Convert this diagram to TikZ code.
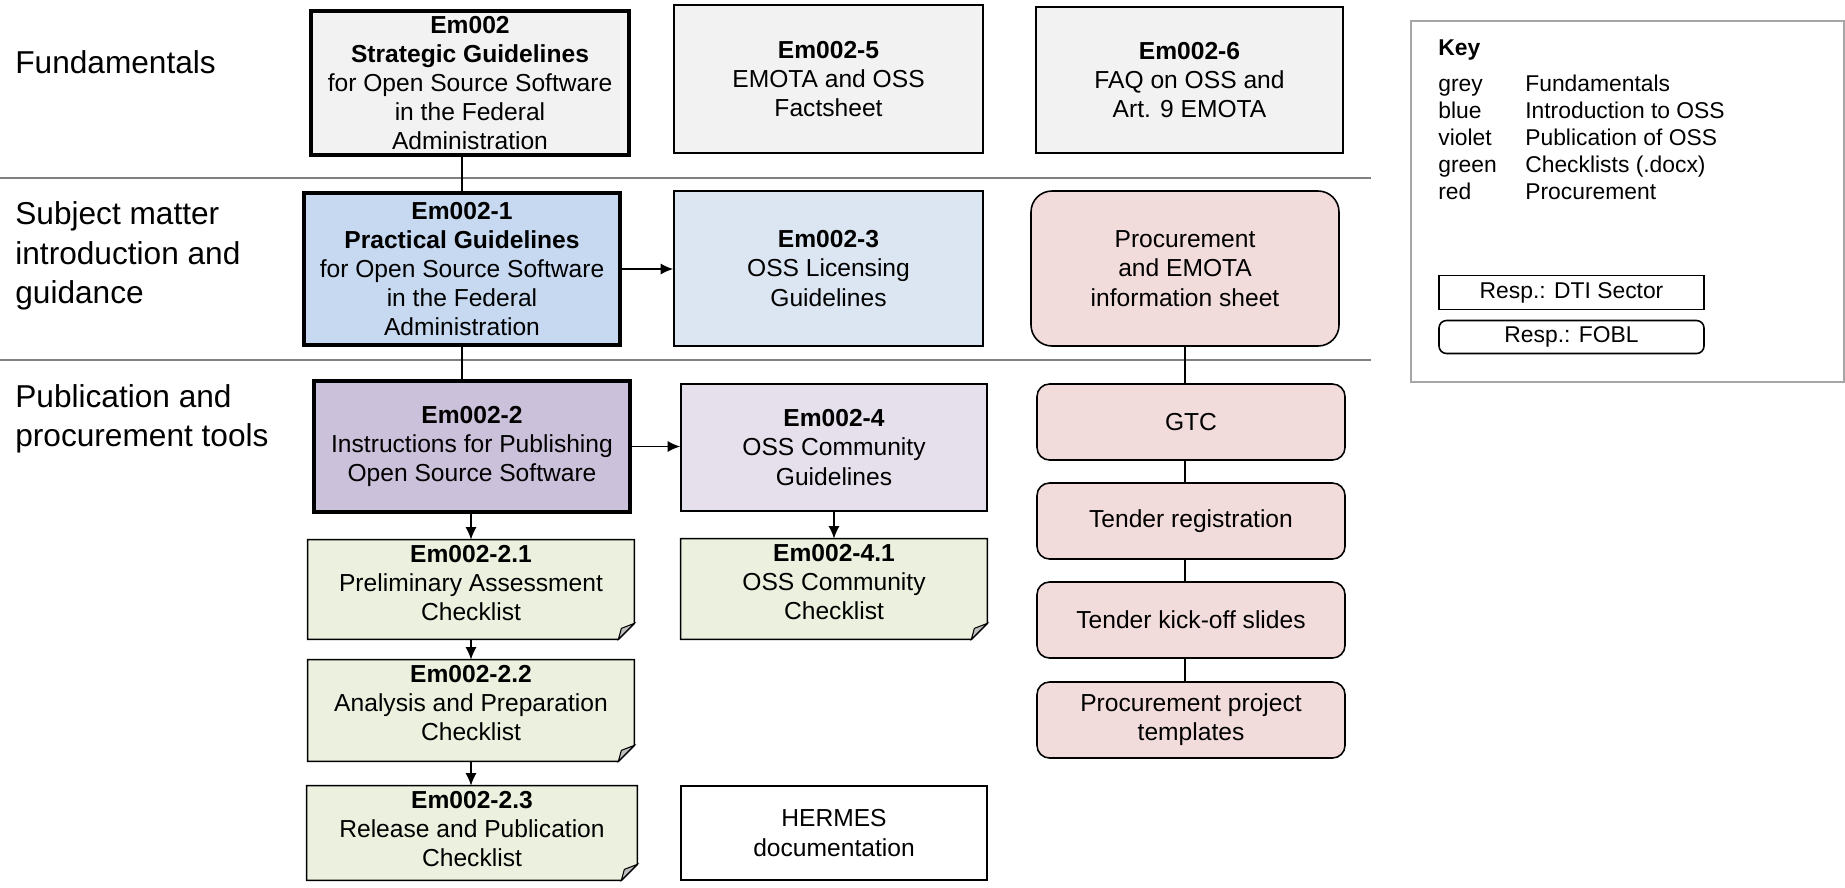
\documentclass[tikz,border=0pt]{standalone}
\usepackage{fontspec}
\setmainfont{Liberation Sans}
\usepackage{tikz}
\usetikzlibrary{calc,arrows.meta,positioning}

\definecolor{fundgrey}{HTML}{F2F2F2}
\definecolor{introblue}{HTML}{C6D9F1}
\definecolor{lightblue}{HTML}{DCE6F2}
\definecolor{pubviolet}{HTML}{CCC1DA}
\definecolor{lightviolet}{HTML}{E6E0EC}
\definecolor{chkgreen}{HTML}{EBF1DE}
\definecolor{procred}{HTML}{F2DCDB}
\definecolor{sepgrey}{HTML}{808080}
\definecolor{keygrey}{HTML}{A6A6A6}
\definecolor{foldgrey}{HTML}{BFBFBF}

\newcommand{\mainfs}{\fontsize{14}{16.6}\selectfont}
\newcommand{\rowfs}{\fontsize{18}{22.4}\selectfont}
\newcommand{\keyfs}{\fontsize{13}{15.5}\selectfont}
\newcommand{\chktext}[2]{\parbox[c][#1][t]{5.9cm}{\centering\vspace*{3pt}#2}}

\begin{document}
\begin{tikzpicture}[
  docbox/.style={draw, line width=0.9pt, align=center, inner sep=0pt, font=\mainfs},
  mainbox/.style={docbox, line width=2.4pt},
  procbox/.style={docbox, fill=procred, rounded corners=0.25cm, minimum width=6.16cm, minimum height=1.52cm},
  chkbox/.style={fill=chkgreen, inner sep=0pt, font=\mainfs},
  conn/.style={line width=0.8pt},
  arr/.style={conn, -{Latex[length=2.5mm,width=2.2mm]}},
  sepline/.style={draw=sepgrey, line width=1.1pt},
  rowlabel/.style={anchor=west, align=left, font=\rowfs, inner sep=0pt}
]
\useasboundingbox (0,0) rectangle (36.9,-17.74);

% Row labels
\node[rowlabel] (lfund) at (0.3,-1.24) {Fundamentals};
\node[rowlabel] (lintro) at (0.3,-5.12) {Subject matter\\introduction and\\guidance};
\node[rowlabel] (lpub) at (0.3,-8.38) {Publication and\\procurement tools};

% Separators between rows
\draw[sepline] (0,-3.56) -- (27.42,-3.56);
\draw[sepline] (0,-7.20) -- (27.42,-7.20);

% Fundamentals
\node[mainbox, fill=fundgrey, minimum width=6.36cm, minimum height=2.88cm] (e0) at (9.40,-1.66) {
    \textbf{Em002}\\
    \textbf{Strategic Guidelines}\\
    for Open Source Software\\
    in the Federal\\
    Administration
};
\node[docbox, fill=fundgrey, minimum width=6.18cm, minimum height=2.96cm] (e5) at (16.57,-1.58) {
    \textbf{Em002-5}\\
    EMOTA and OSS\\
    Factsheet
};
\node[docbox, fill=fundgrey, minimum width=6.14cm, minimum height=2.92cm] (e6) at (23.79,-1.60) {
    \textbf{Em002-6}\\
    FAQ on OSS and\\
    Art. 9 EMOTA
};

% Subject matter introduction
\node[mainbox, fill=introblue, minimum width=6.32cm, minimum height=3.04cm] (e1) at (9.24,-5.38) {
    \textbf{Em002-1}\\
    \textbf{Practical Guidelines}\\
    for Open Source Software\\
    in the Federal\\
    Administration
};
\node[docbox, fill=lightblue, minimum width=6.18cm, minimum height=3.10cm] (e3) at (16.57,-5.37) {
    \textbf{Em002-3}\\
    OSS Licensing\\
    Guidelines
};
\node[docbox, fill=procred, rounded corners=0.42cm, minimum width=6.16cm, minimum height=3.10cm] (procinfo) at (23.70,-5.37) {
    Procurement\\
    and EMOTA\\
    information sheet
};

% Publication and procurement tools
\node[mainbox, fill=pubviolet, minimum width=6.32cm, minimum height=2.62cm] (e2) at (9.44,-8.93) {
    \textbf{Em002-2}\\
    Instructions for Publishing\\
    Open Source Software
};
\node[docbox, fill=lightviolet, minimum width=6.12cm, minimum height=2.54cm] (e4) at (16.68,-8.95) {
    \textbf{Em002-4}\\
    OSS Community\\
    Guidelines
};

% Checklists
\node[chkbox, minimum width=6.52cm] (c21) at (9.42,-11.79) {\chktext{1.98cm}{\textbf{Em002-2.1}\\Preliminary Assessment\\Checklist}};
\node[chkbox, minimum width=6.52cm] (c22) at (9.42,-14.21) {\chktext{2.02cm}{\textbf{Em002-2.2}\\Analysis and Preparation\\Checklist}};
\node[chkbox, minimum width=6.60cm] (c23) at (9.44,-16.66) {\chktext{1.88cm}{\textbf{Em002-2.3}\\Release and Publication\\Checklist}};
\node[chkbox, minimum width=6.12cm] (c41) at (16.68,-11.78) {\chktext{2.00cm}{\textbf{Em002-4.1}\\OSS Community\\Checklist}};

\node[docbox, minimum width=6.12cm, minimum height=1.88cm] (hermes) at (16.68,-16.66) {
    HERMES\\
    documentation
};

% Procurement chain
\node[procbox] (gtc) at (23.82,-8.44) {GTC};
\node[procbox] (treg) at (23.82,-10.42) {Tender registration};
\node[procbox] (kickoff) at (23.82,-12.40) {Tender kick-off slides};
\node[procbox] (templ) at (23.82,-14.40) {Procurement project\\templates};

% Folded corners of the checklists
\foreach \n in {c21,c22,c23,c41}{
  \fill[white] ($(\n.south east)+(-0.33,-0.02)$) -- ($(\n.south east)+(0.02,-0.02)$) -- ($(\n.south east)+(0.02,0.33)$) -- cycle;
  \draw[line width=0.9pt] (\n.north west) -- (\n.north east) -- ($(\n.south east)+(0,0.32)$) -- ($(\n.south east)+(-0.32,0)$) -- (\n.south west) -- cycle;
  \filldraw[fill=foldgrey, line width=0.6pt] ($(\n.south east)+(0,0.32)$) -- ($(\n.south east)+(-0.26,0.22)$) -- ($(\n.south east)+(-0.32,0)$) -- cycle;
}

% Connectors
\draw[conn] (e0.south -| e1.north) -- (e1.north);
\draw[conn] (e1.south) -- (e1.south |- e2.north);
\draw[arr] (e1.east) -- (e1.east -| e3.west);
\draw[arr] (e2.east) -- (e2.east -| e4.west);
\draw[arr] (e2.south -| c21.north) -- (c21.north);
\draw[arr] (c21.south) -- (c22.north);
\draw[arr] (c22.south) -- (c22.south |- c23.north);
\draw[arr] (e4.south) -- (c41.north);
\draw[conn] (procinfo.south) -- (procinfo.south |- gtc.north);
\draw[conn] (gtc.south -| procinfo.south) -- (treg.north -| procinfo.south);
\draw[conn] (treg.south -| procinfo.south) -- (kickoff.north -| procinfo.south);
\draw[conn] (kickoff.south -| procinfo.south) -- (templ.north -| procinfo.south);

% Key
\node[draw=keygrey, line width=0.8pt, minimum width=8.66cm, minimum height=7.22cm] (keybox) at (32.55,-4.03) {};
\node[anchor=base west, font=\keyfs\bfseries, inner sep=0pt] (keytitle) at (28.76,-1.10) {Key};
\node[anchor=base west, font=\keyfs, inner sep=0pt] (keyrows) at (28.76,-1.82) {
    \begin{tabular}[t]{@{}p{1.74cm}@{}l@{}}
    grey & Fundamentals\\
    blue & Introduction to OSS\\
    violet & Publication of OSS\\
    green & Checklists (.docx)\\
    red & Procurement\\
    \end{tabular}
};
\node[draw, line width=0.9pt, font=\keyfs, minimum width=5.30cm, minimum height=0.68cm, inner sep=0pt] (respdti) at (31.43,-5.85) {Resp.: DTI Sector};
\node[draw, line width=0.9pt, rounded corners=0.15cm, font=\keyfs, minimum width=5.30cm, minimum height=0.66cm, inner sep=0pt] (respfobl) at (31.43,-6.74) {Resp.: FOBL};

\end{tikzpicture}
\end{document}
